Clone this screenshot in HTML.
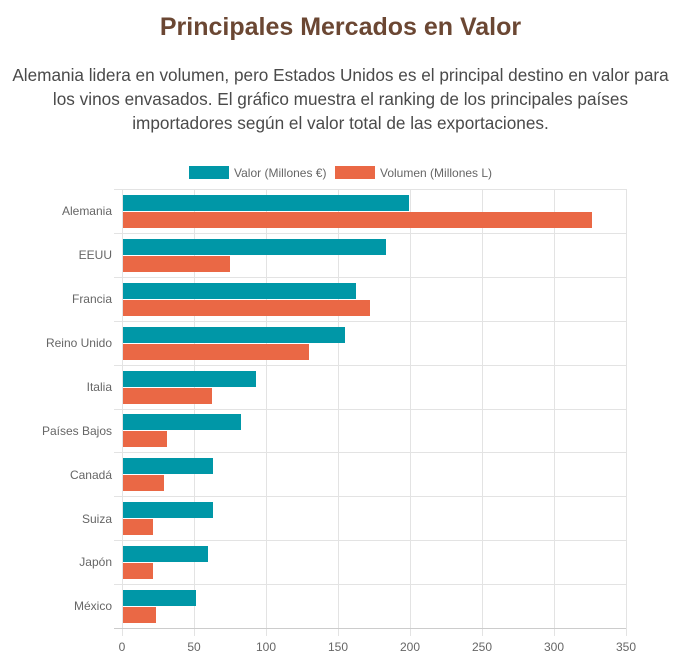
<!DOCTYPE html>
<html><head><meta charset="utf-8"><style>
body{margin:0;width:681px;height:667px;background:#fff;font-family:"Liberation Sans",sans-serif;overflow:hidden}
h1{position:absolute;top:13px;left:0;width:681px;text-align:center;margin:0;font-size:25px;color:#6b4733;font-weight:bold}
p{position:absolute;top:63px;left:0;width:681px;text-align:center;margin:0;font-size:17.2px;line-height:24px;color:#4a4a4a;white-space:nowrap}
</style></head><body>
<h1>Principales Mercados en Valor</h1>
<p>Alemania lidera en volumen, pero Estados Unidos es el principal destino en valor para<br>los vinos envasados. El gráfico muestra el ranking de los principales países<br>importadores según el valor total de las exportaciones.</p>
<svg width="681" height="667" style="position:absolute;left:0;top:0" font-family="Liberation Sans, sans-serif" font-size="12" fill="#666">
<rect x="189" y="166" width="40" height="13" fill="#0097a7"/>
<text x="234" y="177">Valor (Millones €)</text>
<rect x="335" y="166" width="40" height="13" fill="#ea6845"/>
<text x="380" y="177">Volumen (Millones L)</text>
<g stroke="#e3e3e3" stroke-width="1">
<line x1="122.5" y1="189" x2="122.5" y2="636"/><line x1="194.5" y1="189" x2="194.5" y2="636"/><line x1="266.5" y1="189" x2="266.5" y2="636"/><line x1="338.5" y1="189" x2="338.5" y2="636"/><line x1="410.5" y1="189" x2="410.5" y2="636"/><line x1="482.5" y1="189" x2="482.5" y2="636"/><line x1="554.5" y1="189" x2="554.5" y2="636"/><line x1="626.5" y1="189" x2="626.5" y2="636"/>
<line x1="114" y1="189.5" x2="626" y2="189.5"/><line x1="114" y1="233.5" x2="626" y2="233.5"/><line x1="114" y1="277.5" x2="626" y2="277.5"/><line x1="114" y1="321.5" x2="626" y2="321.5"/><line x1="114" y1="365.5" x2="626" y2="365.5"/><line x1="114" y1="409.5" x2="626" y2="409.5"/><line x1="114" y1="452.5" x2="626" y2="452.5"/><line x1="114" y1="496.5" x2="626" y2="496.5"/><line x1="114" y1="540.5" x2="626" y2="540.5"/><line x1="114" y1="584.5" x2="626" y2="584.5"/>
</g>
<line x1="114" y1="628.5" x2="626" y2="628.5" stroke="#ccc"/>
<g fill="#0097a7">
<rect x="123" y="195" width="286" height="16"/><rect x="123" y="239" width="263" height="16"/><rect x="123" y="283" width="233" height="16"/><rect x="123" y="327" width="222" height="16"/><rect x="123" y="371" width="133" height="16"/><rect x="123" y="414" width="118" height="16"/><rect x="123" y="458" width="90" height="16"/><rect x="123" y="502" width="90" height="16"/><rect x="123" y="546" width="85" height="16"/><rect x="123" y="590" width="73" height="16"/>
</g>
<g fill="#ea6845">
<rect x="123" y="212" width="469" height="16"/><rect x="123" y="256" width="107" height="16"/><rect x="123" y="300" width="247" height="16"/><rect x="123" y="344" width="186" height="16"/><rect x="123" y="388" width="89" height="16"/><rect x="123" y="431" width="44" height="16"/><rect x="123" y="475" width="41" height="16"/><rect x="123" y="519" width="30" height="16"/><rect x="123" y="563" width="30" height="16"/><rect x="123" y="607" width="33" height="16"/>
</g>
<g text-anchor="end">
<text x="112" y="215">Alemania</text><text x="112" y="259">EEUU</text><text x="112" y="303">Francia</text><text x="112" y="347">Reino Unido</text><text x="112" y="391">Italia</text><text x="112" y="435">Países Bajos</text><text x="112" y="479">Canadá</text><text x="112" y="523">Suiza</text><text x="112" y="566">Japón</text><text x="112" y="610">México</text>
</g>
<g text-anchor="middle">
<text x="122" y="651">0</text><text x="194" y="651">50</text><text x="266" y="651">100</text><text x="338" y="651">150</text><text x="410" y="651">200</text><text x="482" y="651">250</text><text x="554" y="651">300</text><text x="626" y="651">350</text>
</g>
</svg>
</body></html>
